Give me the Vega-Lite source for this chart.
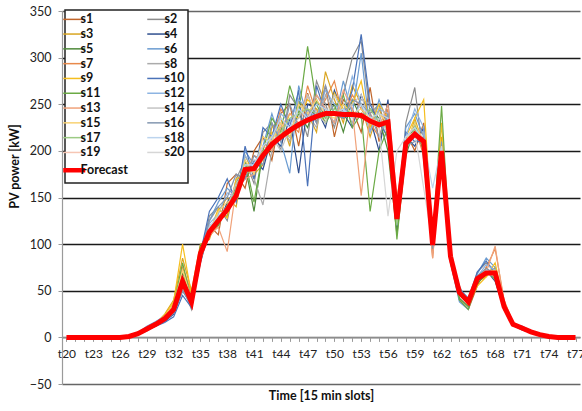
{
"$schema":"https://vega.github.io/schema/vega-lite/v6.json",
"width":518,"height":373,"autosize":"none",
"padding":{"left":62,"top":11,"right":2,"bottom":27},
"background":"white",
"config":{"view":{"stroke":null},"font":"Lato",
"legend":{"rowPadding":1.8,"columnPadding":16,"gridAlign":"each","labelLimit":400}},
"datasets":{
"fc":[
{"t":20,"s":"Forecast","v":0},{"t":21,"s":"Forecast","v":0},{"t":22,"s":"Forecast","v":0},{"t":23,"s":"Forecast","v":0},{"t":24,"s":"Forecast","v":0},{"t":25,"s":"Forecast","v":0},{"t":26,"s":"Forecast","v":0},{"t":27,"s":"Forecast","v":1},{"t":28,"s":"Forecast","v":4},{"t":29,"s":"Forecast","v":9},{"t":30,"s":"Forecast","v":14},{"t":31,"s":"Forecast","v":20},{"t":32,"s":"Forecast","v":30},{"t":33,"s":"Forecast","v":60},{"t":34,"s":"Forecast","v":38},{"t":35,"s":"Forecast","v":90},{"t":36,"s":"Forecast","v":113},{"t":37,"s":"Forecast","v":125},{"t":38,"s":"Forecast","v":137},{"t":39,"s":"Forecast","v":152},{"t":40,"s":"Forecast","v":180},{"t":41,"s":"Forecast","v":181},{"t":42,"s":"Forecast","v":195},{"t":43,"s":"Forecast","v":207},{"t":44,"s":"Forecast","v":215},{"t":45,"s":"Forecast","v":222},{"t":46,"s":"Forecast","v":228},{"t":47,"s":"Forecast","v":233},{"t":48,"s":"Forecast","v":237},{"t":49,"s":"Forecast","v":240},{"t":50,"s":"Forecast","v":240},{"t":51,"s":"Forecast","v":239},{"t":52,"s":"Forecast","v":239},{"t":53,"s":"Forecast","v":238},{"t":54,"s":"Forecast","v":232},{"t":55,"s":"Forecast","v":228},{"t":56,"s":"Forecast","v":231},{"t":57,"s":"Forecast","v":127},{"t":58,"s":"Forecast","v":208},{"t":59,"s":"Forecast","v":218},{"t":60,"s":"Forecast","v":210},{"t":61,"s":"Forecast","v":99},{"t":62,"s":"Forecast","v":200},{"t":63,"s":"Forecast","v":87},{"t":64,"s":"Forecast","v":48},{"t":65,"s":"Forecast","v":38},{"t":66,"s":"Forecast","v":63},{"t":67,"s":"Forecast","v":69},{"t":68,"s":"Forecast","v":69},{"t":69,"s":"Forecast","v":33},{"t":70,"s":"Forecast","v":14},{"t":71,"s":"Forecast","v":10},{"t":72,"s":"Forecast","v":6},{"t":73,"s":"Forecast","v":3},{"t":74,"s":"Forecast","v":1},{"t":75,"s":"Forecast","v":0},{"t":76,"s":"Forecast","v":0},{"t":77,"s":"Forecast","v":0}
],
"scen":[
{"t":27,"s":"s1","v":0},{"t":28,"s":"s1","v":3},{"t":29,"s":"s1","v":8},{"t":30,"s":"s1","v":16},{"t":31,"s":"s1","v":22},{"t":32,"s":"s1","v":35},{"t":33,"s":"s1","v":65},{"t":34,"s":"s1","v":45},{"t":35,"s":"s1","v":95},{"t":36,"s":"s1","v":120},{"t":37,"s":"s1","v":110},{"t":38,"s":"s1","v":165},{"t":39,"s":"s1","v":175},{"t":40,"s":"s1","v":160},{"t":41,"s":"s1","v":200},{"t":42,"s":"s1","v":215},{"t":43,"s":"s1","v":190},{"t":44,"s":"s1","v":240},{"t":45,"s":"s1","v":250},{"t":46,"s":"s1","v":205},{"t":47,"s":"s1","v":262},{"t":48,"s":"s1","v":230},{"t":49,"s":"s1","v":270},{"t":50,"s":"s1","v":215},{"t":51,"s":"s1","v":255},{"t":52,"s":"s1","v":245},{"t":53,"s":"s1","v":220},{"t":54,"s":"s1","v":268},{"t":55,"s":"s1","v":210},{"t":56,"s":"s1","v":240},{"t":57,"s":"s1","v":140},{"t":58,"s":"s1","v":220},{"t":59,"s":"s1","v":200},{"t":60,"s":"s1","v":230},{"t":61,"s":"s1","v":110},{"t":62,"s":"s1","v":190},{"t":63,"s":"s1","v":80},{"t":64,"s":"s1","v":40},{"t":65,"s":"s1","v":30},{"t":66,"s":"s1","v":55},{"t":67,"s":"s1","v":75},{"t":68,"s":"s1","v":65},{"t":69,"s":"s1","v":30},{"t":70,"s":"s1","v":15},{"t":71,"s":"s1","v":9},{"t":72,"s":"s1","v":5},{"t":73,"s":"s1","v":2},
{"t":27,"s":"s2","v":1},{"t":28,"s":"s2","v":5},{"t":29,"s":"s2","v":10},{"t":30,"s":"s2","v":12},{"t":31,"s":"s2","v":18},{"t":32,"s":"s2","v":28},{"t":33,"s":"s2","v":55},{"t":34,"s":"s2","v":30},{"t":35,"s":"s2","v":85},{"t":36,"s":"s2","v":130},{"t":37,"s":"s2","v":140},{"t":38,"s":"s2","v":125},{"t":39,"s":"s2","v":170},{"t":40,"s":"s2","v":190},{"t":41,"s":"s2","v":165},{"t":42,"s":"s2","v":220},{"t":43,"s":"s2","v":230},{"t":44,"s":"s2","v":200},{"t":45,"s":"s2","v":260},{"t":46,"s":"s2","v":245},{"t":47,"s":"s2","v":215},{"t":48,"s":"s2","v":275},{"t":49,"s":"s2","v":250},{"t":50,"s":"s2","v":225},{"t":51,"s":"s2","v":260},{"t":52,"s":"s2","v":300},{"t":53,"s":"s2","v":318},{"t":54,"s":"s2","v":240},{"t":55,"s":"s2","v":250},{"t":56,"s":"s2","v":215},{"t":57,"s":"s2","v":120},{"t":58,"s":"s2","v":230},{"t":59,"s":"s2","v":268},{"t":60,"s":"s2","v":190},{"t":61,"s":"s2","v":95},{"t":62,"s":"s2","v":205},{"t":63,"s":"s2","v":90},{"t":64,"s":"s2","v":55},{"t":65,"s":"s2","v":35},{"t":66,"s":"s2","v":70},{"t":67,"s":"s2","v":80},{"t":68,"s":"s2","v":72},{"t":69,"s":"s2","v":35},{"t":70,"s":"s2","v":12},{"t":71,"s":"s2","v":11},{"t":72,"s":"s2","v":7},{"t":73,"s":"s2","v":3},
{"t":27,"s":"s3","v":2},{"t":28,"s":"s3","v":4},{"t":29,"s":"s3","v":11},{"t":30,"s":"s3","v":15},{"t":31,"s":"s3","v":25},{"t":32,"s":"s3","v":40},{"t":33,"s":"s3","v":85},{"t":34,"s":"s3","v":50},{"t":35,"s":"s3","v":100},{"t":36,"s":"s3","v":105},{"t":37,"s":"s3","v":135},{"t":38,"s":"s3","v":150},{"t":39,"s":"s3","v":140},{"t":40,"s":"s3","v":195},{"t":41,"s":"s3","v":175},{"t":42,"s":"s3","v":185},{"t":43,"s":"s3","v":225},{"t":44,"s":"s3","v":235},{"t":45,"s":"s3","v":205},{"t":46,"s":"s3","v":255},{"t":47,"s":"s3","v":240},{"t":48,"s":"s3","v":220},{"t":49,"s":"s3","v":285},{"t":50,"s":"s3","v":255},{"t":51,"s":"s3","v":230},{"t":52,"s":"s3","v":270},{"t":53,"s":"s3","v":250},{"t":54,"s":"s3","v":215},{"t":55,"s":"s3","v":245},{"t":56,"s":"s3","v":220},{"t":57,"s":"s3","v":135},{"t":58,"s":"s3","v":200},{"t":59,"s":"s3","v":235},{"t":60,"s":"s3","v":205},{"t":61,"s":"s3","v":105},{"t":62,"s":"s3","v":215},{"t":63,"s":"s3","v":95},{"t":64,"s":"s3","v":45},{"t":65,"s":"s3","v":40},{"t":66,"s":"s3","v":60},{"t":67,"s":"s3","v":65},{"t":68,"s":"s3","v":75},{"t":69,"s":"s3","v":38},{"t":70,"s":"s3","v":16},{"t":71,"s":"s3","v":10},{"t":72,"s":"s3","v":6},{"t":73,"s":"s3","v":3},
{"t":27,"s":"s4","v":0},{"t":28,"s":"s4","v":3},{"t":29,"s":"s4","v":7},{"t":30,"s":"s4","v":13},{"t":31,"s":"s4","v":17},{"t":32,"s":"s4","v":25},{"t":33,"s":"s4","v":50},{"t":34,"s":"s4","v":35},{"t":35,"s":"s4","v":80},{"t":36,"s":"s4","v":115},{"t":37,"s":"s4","v":120},{"t":38,"s":"s4","v":145},{"t":39,"s":"s4","v":160},{"t":40,"s":"s4","v":170},{"t":41,"s":"s4","v":190},{"t":42,"s":"s4","v":180},{"t":43,"s":"s4","v":215},{"t":44,"s":"s4","v":205},{"t":45,"s":"s4","v":235},{"t":46,"s":"s4","v":176},{"t":47,"s":"s4","v":250},{"t":48,"s":"s4","v":245},{"t":49,"s":"s4","v":225},{"t":50,"s":"s4","v":265},{"t":51,"s":"s4","v":240},{"t":52,"s":"s4","v":225},{"t":53,"s":"s4","v":260},{"t":54,"s":"s4","v":235},{"t":55,"s":"s4","v":200},{"t":56,"s":"s4","v":255},{"t":57,"s":"s4","v":115},{"t":58,"s":"s4","v":215},{"t":59,"s":"s4","v":205},{"t":60,"s":"s4","v":225},{"t":61,"s":"s4","v":90},{"t":62,"s":"s4","v":185},{"t":63,"s":"s4","v":85},{"t":64,"s":"s4","v":50},{"t":65,"s":"s4","v":35},{"t":66,"s":"s4","v":65},{"t":67,"s":"s4","v":72},{"t":68,"s":"s4","v":60},{"t":69,"s":"s4","v":30},{"t":70,"s":"s4","v":13},{"t":71,"s":"s4","v":8},{"t":72,"s":"s4","v":5},{"t":73,"s":"s4","v":2},
{"t":27,"s":"s5","v":1},{"t":28,"s":"s5","v":4},{"t":29,"s":"s5","v":9},{"t":30,"s":"s5","v":14},{"t":31,"s":"s5","v":19},{"t":32,"s":"s5","v":33},{"t":33,"s":"s5","v":70},{"t":34,"s":"s5","v":42},{"t":35,"s":"s5","v":98},{"t":36,"s":"s5","v":110},{"t":37,"s":"s5","v":130},{"t":38,"s":"s5","v":130},{"t":39,"s":"s5","v":165},{"t":40,"s":"s5","v":185},{"t":41,"s":"s5","v":135},{"t":42,"s":"s5","v":200},{"t":43,"s":"s5","v":200},{"t":44,"s":"s5","v":225},{"t":45,"s":"s5","v":215},{"t":46,"s":"s5","v":240},{"t":47,"s":"s5","v":225},{"t":48,"s":"s5","v":255},{"t":49,"s":"s5","v":235},{"t":50,"s":"s5","v":250},{"t":51,"s":"s5","v":220},{"t":52,"s":"s5","v":255},{"t":53,"s":"s5","v":235},{"t":54,"s":"s5","v":245},{"t":55,"s":"s5","v":235},{"t":56,"s":"s5","v":200},{"t":57,"s":"s5","v":110},{"t":58,"s":"s5","v":195},{"t":59,"s":"s5","v":225},{"t":60,"s":"s5","v":200},{"t":61,"s":"s5","v":100},{"t":62,"s":"s5","v":195},{"t":63,"s":"s5","v":92},{"t":64,"s":"s5","v":42},{"t":65,"s":"s5","v":33},{"t":66,"s":"s5","v":58},{"t":67,"s":"s5","v":68},{"t":68,"s":"s5","v":70},{"t":69,"s":"s5","v":32},{"t":70,"s":"s5","v":15},{"t":71,"s":"s5","v":10},{"t":72,"s":"s5","v":6},{"t":73,"s":"s5","v":3},
{"t":27,"s":"s6","v":1},{"t":28,"s":"s6","v":5},{"t":29,"s":"s6","v":12},{"t":30,"s":"s6","v":17},{"t":31,"s":"s6","v":23},{"t":32,"s":"s6","v":30},{"t":33,"s":"s6","v":55},{"t":34,"s":"s6","v":40},{"t":35,"s":"s6","v":92},{"t":36,"s":"s6","v":125},{"t":37,"s":"s6","v":145},{"t":38,"s":"s6","v":160},{"t":39,"s":"s6","v":150},{"t":40,"s":"s6","v":200},{"t":41,"s":"s6","v":185},{"t":42,"s":"s6","v":205},{"t":43,"s":"s6","v":240},{"t":44,"s":"s6","v":210},{"t":45,"s":"s6","v":176},{"t":46,"s":"s6","v":270},{"t":47,"s":"s6","v":235},{"t":48,"s":"s6","v":260},{"t":49,"s":"s6","v":245},{"t":50,"s":"s6","v":230},{"t":51,"s":"s6","v":275},{"t":52,"s":"s6","v":240},{"t":53,"s":"s6","v":305},{"t":54,"s":"s6","v":220},{"t":55,"s":"s6","v":255},{"t":56,"s":"s6","v":230},{"t":57,"s":"s6","v":130},{"t":58,"s":"s6","v":225},{"t":59,"s":"s6","v":240},{"t":60,"s":"s6","v":215},{"t":61,"s":"s6","v":110},{"t":62,"s":"s6","v":210},{"t":63,"s":"s6","v":80},{"t":64,"s":"s6","v":38},{"t":65,"s":"s6","v":30},{"t":66,"s":"s6","v":68},{"t":67,"s":"s6","v":85},{"t":68,"s":"s6","v":75},{"t":69,"s":"s6","v":36},{"t":70,"s":"s6","v":14},{"t":71,"s":"s6","v":11},{"t":72,"s":"s6","v":6},{"t":73,"s":"s6","v":2},
{"t":27,"s":"s7","v":0},{"t":28,"s":"s7","v":4},{"t":29,"s":"s7","v":8},{"t":30,"s":"s7","v":13},{"t":31,"s":"s7","v":20},{"t":32,"s":"s7","v":36},{"t":33,"s":"s7","v":75},{"t":34,"s":"s7","v":48},{"t":35,"s":"s7","v":88},{"t":36,"s":"s7","v":108},{"t":37,"s":"s7","v":120},{"t":38,"s":"s7","v":140},{"t":39,"s":"s7","v":165},{"t":40,"s":"s7","v":175},{"t":41,"s":"s7","v":195},{"t":42,"s":"s7","v":190},{"t":43,"s":"s7","v":210},{"t":44,"s":"s7","v":245},{"t":45,"s":"s7","v":230},{"t":46,"s":"s7","v":220},{"t":47,"s":"s7","v":270},{"t":48,"s":"s7","v":240},{"t":49,"s":"s7","v":255},{"t":50,"s":"s7","v":275},{"t":51,"s":"s7","v":235},{"t":52,"s":"s7","v":260},{"t":53,"s":"s7","v":245},{"t":54,"s":"s7","v":230},{"t":55,"s":"s7","v":215},{"t":56,"s":"s7","v":245},{"t":57,"s":"s7","v":145},{"t":58,"s":"s7","v":210},{"t":59,"s":"s7","v":225},{"t":60,"s":"s7","v":195},{"t":61,"s":"s7","v":85},{"t":62,"s":"s7","v":205},{"t":63,"s":"s7","v":88},{"t":64,"s":"s7","v":50},{"t":65,"s":"s7","v":40},{"t":66,"s":"s7","v":60},{"t":67,"s":"s7","v":75},{"t":68,"s":"s7","v":95},{"t":69,"s":"s7","v":40},{"t":70,"s":"s7","v":16},{"t":71,"s":"s7","v":9},{"t":72,"s":"s7","v":5},{"t":73,"s":"s7","v":3},
{"t":27,"s":"s8","v":1},{"t":28,"s":"s8","v":3},{"t":29,"s":"s8","v":9},{"t":30,"s":"s8","v":15},{"t":31,"s":"s8","v":21},{"t":32,"s":"s8","v":27},{"t":33,"s":"s8","v":52},{"t":34,"s":"s8","v":35},{"t":35,"s":"s8","v":82},{"t":36,"s":"s8","v":118},{"t":37,"s":"s8","v":128},{"t":38,"s":"s8","v":135},{"t":39,"s":"s8","v":155},{"t":40,"s":"s8","v":185},{"t":41,"s":"s8","v":170},{"t":42,"s":"s8","v":142},{"t":43,"s":"s8","v":200},{"t":44,"s":"s8","v":230},{"t":45,"s":"s8","v":210},{"t":46,"s":"s8","v":250},{"t":47,"s":"s8","v":240},{"t":48,"s":"s8","v":225},{"t":49,"s":"s8","v":260},{"t":50,"s":"s8","v":240},{"t":51,"s":"s8","v":250},{"t":52,"s":"s8","v":230},{"t":53,"s":"s8","v":255},{"t":54,"s":"s8","v":250},{"t":55,"s":"s8","v":240},{"t":56,"s":"s8","v":210},{"t":57,"s":"s8","v":125},{"t":58,"s":"s8","v":205},{"t":59,"s":"s8","v":215},{"t":60,"s":"s8","v":220},{"t":61,"s":"s8","v":100},{"t":62,"s":"s8","v":195},{"t":63,"s":"s8","v":95},{"t":64,"s":"s8","v":45},{"t":65,"s":"s8","v":38},{"t":66,"s":"s8","v":62},{"t":67,"s":"s8","v":70},{"t":68,"s":"s8","v":65},{"t":69,"s":"s8","v":33},{"t":70,"s":"s8","v":13},{"t":71,"s":"s8","v":10},{"t":72,"s":"s8","v":6},{"t":73,"s":"s8","v":2},
{"t":27,"s":"s9","v":1},{"t":28,"s":"s9","v":4},{"t":29,"s":"s9","v":10},{"t":30,"s":"s9","v":14},{"t":31,"s":"s9","v":24},{"t":32,"s":"s9","v":38},{"t":33,"s":"s9","v":100},{"t":34,"s":"s9","v":45},{"t":35,"s":"s9","v":96},{"t":36,"s":"s9","v":112},{"t":37,"s":"s9","v":138},{"t":38,"s":"s9","v":128},{"t":39,"s":"s9","v":170},{"t":40,"s":"s9","v":175},{"t":41,"s":"s9","v":180},{"t":42,"s":"s9","v":190},{"t":43,"s":"s9","v":220},{"t":44,"s":"s9","v":215},{"t":45,"s":"s9","v":240},{"t":46,"s":"s9","v":235},{"t":47,"s":"s9","v":255},{"t":48,"s":"s9","v":245},{"t":49,"s":"s9","v":230},{"t":50,"s":"s9","v":262},{"t":51,"s":"s9","v":245},{"t":52,"s":"s9","v":250},{"t":53,"s":"s9","v":275},{"t":54,"s":"s9","v":225},{"t":55,"s":"s9","v":250},{"t":56,"s":"s9","v":235},{"t":57,"s":"s9","v":135},{"t":58,"s":"s9","v":215},{"t":59,"s":"s9","v":235},{"t":60,"s":"s9","v":255},{"t":61,"s":"s9","v":105},{"t":62,"s":"s9","v":230},{"t":63,"s":"s9","v":85},{"t":64,"s":"s9","v":48},{"t":65,"s":"s9","v":35},{"t":66,"s":"s9","v":55},{"t":67,"s":"s9","v":65},{"t":68,"s":"s9","v":80},{"t":69,"s":"s9","v":35},{"t":70,"s":"s9","v":15},{"t":71,"s":"s9","v":10},{"t":72,"s":"s9","v":6},{"t":73,"s":"s9","v":3},
{"t":27,"s":"s10","v":0},{"t":28,"s":"s10","v":3},{"t":29,"s":"s10","v":8},{"t":30,"s":"s10","v":12},{"t":31,"s":"s10","v":16},{"t":32,"s":"s10","v":22},{"t":33,"s":"s10","v":45},{"t":34,"s":"s10","v":32},{"t":35,"s":"s10","v":90},{"t":36,"s":"s10","v":135},{"t":37,"s":"s10","v":150},{"t":38,"s":"s10","v":170},{"t":39,"s":"s10","v":145},{"t":40,"s":"s10","v":205},{"t":41,"s":"s10","v":170},{"t":42,"s":"s10","v":225},{"t":43,"s":"s10","v":215},{"t":44,"s":"s10","v":250},{"t":45,"s":"s10","v":225},{"t":46,"s":"s10","v":265},{"t":47,"s":"s10","v":162},{"t":48,"s":"s10","v":270},{"t":49,"s":"s10","v":240},{"t":50,"s":"s10","v":240},{"t":51,"s":"s10","v":235},{"t":52,"s":"s10","v":265},{"t":53,"s":"s10","v":325},{"t":54,"s":"s10","v":250},{"t":55,"s":"s10","v":230},{"t":56,"s":"s10","v":215},{"t":57,"s":"s10","v":120},{"t":58,"s":"s10","v":220},{"t":59,"s":"s10","v":210},{"t":60,"s":"s10","v":210},{"t":61,"s":"s10","v":95},{"t":62,"s":"s10","v":190},{"t":63,"s":"s10","v":90},{"t":64,"s":"s10","v":52},{"t":65,"s":"s10","v":42},{"t":66,"s":"s10","v":70},{"t":67,"s":"s10","v":82},{"t":68,"s":"s10","v":68},{"t":69,"s":"s10","v":31},{"t":70,"s":"s10","v":14},{"t":71,"s":"s10","v":12},{"t":72,"s":"s10","v":7},{"t":73,"s":"s10","v":3},
{"t":27,"s":"s11","v":1},{"t":28,"s":"s11","v":4},{"t":29,"s":"s11","v":9},{"t":30,"s":"s11","v":15},{"t":31,"s":"s11","v":20},{"t":32,"s":"s11","v":34},{"t":33,"s":"s11","v":80},{"t":34,"s":"s11","v":40},{"t":35,"s":"s11","v":94},{"t":36,"s":"s11","v":115},{"t":37,"s":"s11","v":120},{"t":38,"s":"s11","v":142},{"t":39,"s":"s11","v":158},{"t":40,"s":"s11","v":190},{"t":41,"s":"s11","v":145},{"t":42,"s":"s11","v":200},{"t":43,"s":"s11","v":235},{"t":44,"s":"s11","v":220},{"t":45,"s":"s11","v":270},{"t":46,"s":"s11","v":240},{"t":47,"s":"s11","v":312},{"t":48,"s":"s11","v":250},{"t":49,"s":"s11","v":230},{"t":50,"s":"s11","v":245},{"t":51,"s":"s11","v":260},{"t":52,"s":"s11","v":225},{"t":53,"s":"s11","v":240},{"t":54,"s":"s11","v":135},{"t":55,"s":"s11","v":200},{"t":56,"s":"s11","v":225},{"t":57,"s":"s11","v":105},{"t":58,"s":"s11","v":200},{"t":59,"s":"s11","v":230},{"t":60,"s":"s11","v":200},{"t":61,"s":"s11","v":100},{"t":62,"s":"s11","v":248},{"t":63,"s":"s11","v":85},{"t":64,"s":"s11","v":40},{"t":65,"s":"s11","v":30},{"t":66,"s":"s11","v":60},{"t":67,"s":"s11","v":72},{"t":68,"s":"s11","v":62},{"t":69,"s":"s11","v":30},{"t":70,"s":"s11","v":13},{"t":71,"s":"s11","v":9},{"t":72,"s":"s11","v":5},{"t":73,"s":"s11","v":2},
{"t":27,"s":"s12","v":1},{"t":28,"s":"s12","v":5},{"t":29,"s":"s12","v":11},{"t":30,"s":"s12","v":16},{"t":31,"s":"s12","v":22},{"t":32,"s":"s12","v":29},{"t":33,"s":"s12","v":58},{"t":34,"s":"s12","v":36},{"t":35,"s":"s12","v":87},{"t":36,"s":"s12","v":122},{"t":37,"s":"s12","v":132},{"t":38,"s":"s12","v":155},{"t":39,"s":"s12","v":150},{"t":40,"s":"s12","v":195},{"t":41,"s":"s12","v":180},{"t":42,"s":"s12","v":195},{"t":43,"s":"s12","v":210},{"t":44,"s":"s12","v":240},{"t":45,"s":"s12","v":230},{"t":46,"s":"s12","v":255},{"t":47,"s":"s12","v":245},{"t":48,"s":"s12","v":235},{"t":49,"s":"s12","v":265},{"t":50,"s":"s12","v":250},{"t":51,"s":"s12","v":240},{"t":52,"s":"s12","v":280},{"t":53,"s":"s12","v":250},{"t":54,"s":"s12","v":220},{"t":55,"s":"s12","v":245},{"t":56,"s":"s12","v":240},{"t":57,"s":"s12","v":130},{"t":58,"s":"s12","v":215},{"t":59,"s":"s12","v":245},{"t":60,"s":"s12","v":225},{"t":61,"s":"s12","v":100},{"t":62,"s":"s12","v":200},{"t":63,"s":"s12","v":90},{"t":64,"s":"s12","v":46},{"t":65,"s":"s12","v":38},{"t":66,"s":"s12","v":65},{"t":67,"s":"s12","v":78},{"t":68,"s":"s12","v":72},{"t":69,"s":"s12","v":34},{"t":70,"s":"s12","v":15},{"t":71,"s":"s12","v":10},{"t":72,"s":"s12","v":6},{"t":73,"s":"s12","v":3},
{"t":27,"s":"s13","v":0},{"t":28,"s":"s13","v":3},{"t":29,"s":"s13","v":8},{"t":30,"s":"s13","v":14},{"t":31,"s":"s13","v":19},{"t":32,"s":"s13","v":31},{"t":33,"s":"s13","v":62},{"t":34,"s":"s13","v":44},{"t":35,"s":"s13","v":84},{"t":36,"s":"s13","v":110},{"t":37,"s":"s13","v":118},{"t":38,"s":"s13","v":92},{"t":39,"s":"s13","v":160},{"t":40,"s":"s13","v":170},{"t":41,"s":"s13","v":175},{"t":42,"s":"s13","v":205},{"t":43,"s":"s13","v":200},{"t":44,"s":"s13","v":225},{"t":45,"s":"s13","v":240},{"t":46,"s":"s13","v":230},{"t":47,"s":"s13","v":235},{"t":48,"s":"s13","v":260},{"t":49,"s":"s13","v":245},{"t":50,"s":"s13","v":230},{"t":51,"s":"s13","v":265},{"t":52,"s":"s13","v":245},{"t":53,"s":"s13","v":152},{"t":54,"s":"s13","v":240},{"t":55,"s":"s13","v":225},{"t":56,"s":"s13","v":250},{"t":57,"s":"s13","v":150},{"t":58,"s":"s13","v":205},{"t":59,"s":"s13","v":220},{"t":60,"s":"s13","v":205},{"t":61,"s":"s13","v":85},{"t":62,"s":"s13","v":195},{"t":63,"s":"s13","v":92},{"t":64,"s":"s13","v":50},{"t":65,"s":"s13","v":36},{"t":66,"s":"s13","v":62},{"t":67,"s":"s13","v":70},{"t":68,"s":"s13","v":98},{"t":69,"s":"s13","v":36},{"t":70,"s":"s13","v":14},{"t":71,"s":"s13","v":10},{"t":72,"s":"s13","v":5},{"t":73,"s":"s13","v":2},
{"t":27,"s":"s14","v":1},{"t":28,"s":"s14","v":4},{"t":29,"s":"s14","v":10},{"t":30,"s":"s14","v":13},{"t":31,"s":"s14","v":21},{"t":32,"s":"s14","v":32},{"t":33,"s":"s14","v":60},{"t":34,"s":"s14","v":38},{"t":35,"s":"s14","v":91},{"t":36,"s":"s14","v":120},{"t":37,"s":"s14","v":125},{"t":38,"s":"s14","v":140},{"t":39,"s":"s14","v":165},{"t":40,"s":"s14","v":180},{"t":41,"s":"s14","v":190},{"t":42,"s":"s14","v":190},{"t":43,"s":"s14","v":215},{"t":44,"s":"s14","v":200},{"t":45,"s":"s14","v":225},{"t":46,"s":"s14","v":235},{"t":47,"s":"s14","v":260},{"t":48,"s":"s14","v":240},{"t":49,"s":"s14","v":230},{"t":50,"s":"s14","v":260},{"t":51,"s":"s14","v":240},{"t":52,"s":"s14","v":250},{"t":53,"s":"s14","v":260},{"t":54,"s":"s14","v":230},{"t":55,"s":"s14","v":235},{"t":56,"s":"s14","v":220},{"t":57,"s":"s14","v":125},{"t":58,"s":"s14","v":210},{"t":59,"s":"s14","v":215},{"t":60,"s":"s14","v":215},{"t":61,"s":"s14","v":110},{"t":62,"s":"s14","v":200},{"t":63,"s":"s14","v":88},{"t":64,"s":"s14","v":48},{"t":65,"s":"s14","v":40},{"t":66,"s":"s14","v":64},{"t":67,"s":"s14","v":68},{"t":68,"s":"s14","v":66},{"t":69,"s":"s14","v":33},{"t":70,"s":"s14","v":15},{"t":71,"s":"s14","v":11},{"t":72,"s":"s14","v":6},{"t":73,"s":"s14","v":3},
{"t":27,"s":"s15","v":1},{"t":28,"s":"s15","v":4},{"t":29,"s":"s15","v":9},{"t":30,"s":"s15","v":15},{"t":31,"s":"s15","v":22},{"t":32,"s":"s15","v":35},{"t":33,"s":"s15","v":72},{"t":34,"s":"s15","v":41},{"t":35,"s":"s15","v":93},{"t":36,"s":"s15","v":108},{"t":37,"s":"s15","v":135},{"t":38,"s":"s15","v":145},{"t":39,"s":"s15","v":150},{"t":40,"s":"s15","v":190},{"t":41,"s":"s15","v":175},{"t":42,"s":"s15","v":215},{"t":43,"s":"s15","v":210},{"t":44,"s":"s15","v":230},{"t":45,"s":"s15","v":215},{"t":46,"s":"s15","v":250},{"t":47,"s":"s15","v":240},{"t":48,"s":"s15","v":255},{"t":49,"s":"s15","v":240},{"t":50,"s":"s15","v":235},{"t":51,"s":"s15","v":250},{"t":52,"s":"s15","v":240},{"t":53,"s":"s15","v":245},{"t":54,"s":"s15","v":235},{"t":55,"s":"s15","v":240},{"t":56,"s":"s15","v":230},{"t":57,"s":"s15","v":128},{"t":58,"s":"s15","v":210},{"t":59,"s":"s15","v":230},{"t":60,"s":"s15","v":210},{"t":61,"s":"s15","v":100},{"t":62,"s":"s15","v":205},{"t":63,"s":"s15","v":84},{"t":64,"s":"s15","v":46},{"t":65,"s":"s15","v":36},{"t":66,"s":"s15","v":60},{"t":67,"s":"s15","v":70},{"t":68,"s":"s15","v":72},{"t":69,"s":"s15","v":35},{"t":70,"s":"s15","v":14},{"t":71,"s":"s15","v":10},{"t":72,"s":"s15","v":6},{"t":73,"s":"s15","v":3},
{"t":27,"s":"s16","v":0},{"t":28,"s":"s16","v":3},{"t":29,"s":"s16","v":8},{"t":30,"s":"s16","v":12},{"t":31,"s":"s16","v":18},{"t":32,"s":"s16","v":26},{"t":33,"s":"s16","v":50},{"t":34,"s":"s16","v":34},{"t":35,"s":"s16","v":85},{"t":36,"s":"s16","v":125},{"t":37,"s":"s16","v":140},{"t":38,"s":"s16","v":150},{"t":39,"s":"s16","v":175},{"t":40,"s":"s16","v":170},{"t":41,"s":"s16","v":195},{"t":42,"s":"s16","v":185},{"t":43,"s":"s16","v":230},{"t":44,"s":"s16","v":210},{"t":45,"s":"s16","v":250},{"t":46,"s":"s16","v":225},{"t":47,"s":"s16","v":245},{"t":48,"s":"s16","v":230},{"t":49,"s":"s16","v":270},{"t":50,"s":"s16","v":240},{"t":51,"s":"s16","v":235},{"t":52,"s":"s16","v":255},{"t":53,"s":"s16","v":250},{"t":54,"s":"s16","v":240},{"t":55,"s":"s16","v":215},{"t":56,"s":"s16","v":240},{"t":57,"s":"s16","v":130},{"t":58,"s":"s16","v":205},{"t":59,"s":"s16","v":210},{"t":60,"s":"s16","v":215},{"t":61,"s":"s16","v":95},{"t":62,"s":"s16","v":195},{"t":63,"s":"s16","v":90},{"t":64,"s":"s16","v":50},{"t":65,"s":"s16","v":40},{"t":66,"s":"s16","v":66},{"t":67,"s":"s16","v":74},{"t":68,"s":"s16","v":68},{"t":69,"s":"s16","v":31},{"t":70,"s":"s16","v":13},{"t":71,"s":"s16","v":10},{"t":72,"s":"s16","v":5},{"t":73,"s":"s16","v":2},
{"t":27,"s":"s17","v":1},{"t":28,"s":"s17","v":4},{"t":29,"s":"s17","v":9},{"t":30,"s":"s17","v":14},{"t":31,"s":"s17","v":20},{"t":32,"s":"s17","v":30},{"t":33,"s":"s17","v":64},{"t":34,"s":"s17","v":39},{"t":35,"s":"s17","v":90},{"t":36,"s":"s17","v":112},{"t":37,"s":"s17","v":128},{"t":38,"s":"s17","v":135},{"t":39,"s":"s17","v":160},{"t":40,"s":"s17","v":185},{"t":41,"s":"s17","v":180},{"t":42,"s":"s17","v":200},{"t":43,"s":"s17","v":205},{"t":44,"s":"s17","v":220},{"t":45,"s":"s17","v":235},{"t":46,"s":"s17","v":240},{"t":47,"s":"s17","v":245},{"t":48,"s":"s17","v":240},{"t":49,"s":"s17","v":235},{"t":50,"s":"s17","v":245},{"t":51,"s":"s17","v":240},{"t":52,"s":"s17","v":240},{"t":53,"s":"s17","v":235},{"t":54,"s":"s17","v":245},{"t":55,"s":"s17","v":230},{"t":56,"s":"s17","v":225},{"t":57,"s":"s17","v":120},{"t":58,"s":"s17","v":200},{"t":59,"s":"s17","v":225},{"t":60,"s":"s17","v":205},{"t":61,"s":"s17","v":100},{"t":62,"s":"s17","v":200},{"t":63,"s":"s17","v":86},{"t":64,"s":"s17","v":45},{"t":65,"s":"s17","v":37},{"t":66,"s":"s17","v":62},{"t":67,"s":"s17","v":70},{"t":68,"s":"s17","v":70},{"t":69,"s":"s17","v":32},{"t":70,"s":"s17","v":14},{"t":71,"s":"s17","v":10},{"t":72,"s":"s17","v":6},{"t":73,"s":"s17","v":3},
{"t":27,"s":"s18","v":1},{"t":28,"s":"s18","v":5},{"t":29,"s":"s18","v":10},{"t":30,"s":"s18","v":16},{"t":31,"s":"s18","v":22},{"t":32,"s":"s18","v":31},{"t":33,"s":"s18","v":57},{"t":34,"s":"s18","v":37},{"t":35,"s":"s18","v":88},{"t":36,"s":"s18","v":118},{"t":37,"s":"s18","v":130},{"t":38,"s":"s18","v":140},{"t":39,"s":"s18","v":155},{"t":40,"s":"s18","v":185},{"t":41,"s":"s18","v":185},{"t":42,"s":"s18","v":205},{"t":43,"s":"s18","v":215},{"t":44,"s":"s18","v":235},{"t":45,"s":"s18","v":225},{"t":46,"s":"s18","v":245},{"t":47,"s":"s18","v":235},{"t":48,"s":"s18","v":250},{"t":49,"s":"s18","v":245},{"t":50,"s":"s18","v":240},{"t":51,"s":"s18","v":245},{"t":52,"s":"s18","v":235},{"t":53,"s":"s18","v":250},{"t":54,"s":"s18","v":235},{"t":55,"s":"s18","v":240},{"t":56,"s":"s18","v":235},{"t":57,"s":"s18","v":135},{"t":58,"s":"s18","v":215},{"t":59,"s":"s18","v":225},{"t":60,"s":"s18","v":210},{"t":61,"s":"s18","v":160},{"t":62,"s":"s18","v":205},{"t":63,"s":"s18","v":90},{"t":64,"s":"s18","v":47},{"t":65,"s":"s18","v":38},{"t":66,"s":"s18","v":64},{"t":67,"s":"s18","v":72},{"t":68,"s":"s18","v":68},{"t":69,"s":"s18","v":34},{"t":70,"s":"s18","v":15},{"t":71,"s":"s18","v":11},{"t":72,"s":"s18","v":6},{"t":73,"s":"s18","v":3},
{"t":27,"s":"s19","v":0},{"t":28,"s":"s19","v":4},{"t":29,"s":"s19","v":9},{"t":30,"s":"s19","v":14},{"t":31,"s":"s19","v":20},{"t":32,"s":"s19","v":29},{"t":33,"s":"s19","v":60},{"t":34,"s":"s19","v":38},{"t":35,"s":"s19","v":90},{"t":36,"s":"s19","v":113},{"t":37,"s":"s19","v":123},{"t":38,"s":"s19","v":138},{"t":39,"s":"s19","v":152},{"t":40,"s":"s19","v":180},{"t":41,"s":"s19","v":178},{"t":42,"s":"s19","v":195},{"t":43,"s":"s19","v":208},{"t":44,"s":"s19","v":215},{"t":45,"s":"s19","v":220},{"t":46,"s":"s19","v":230},{"t":47,"s":"s19","v":235},{"t":48,"s":"s19","v":235},{"t":49,"s":"s19","v":240},{"t":50,"s":"s19","v":238},{"t":51,"s":"s19","v":240},{"t":52,"s":"s19","v":240},{"t":53,"s":"s19","v":238},{"t":54,"s":"s19","v":235},{"t":55,"s":"s19","v":230},{"t":56,"s":"s19","v":232},{"t":57,"s":"s19","v":130},{"t":58,"s":"s19","v":205},{"t":59,"s":"s19","v":218},{"t":60,"s":"s19","v":212},{"t":61,"s":"s19","v":105},{"t":62,"s":"s19","v":200},{"t":63,"s":"s19","v":88},{"t":64,"s":"s19","v":48},{"t":65,"s":"s19","v":40},{"t":66,"s":"s19","v":64},{"t":67,"s":"s19","v":70},{"t":68,"s":"s19","v":70},{"t":69,"s":"s19","v":34},{"t":70,"s":"s19","v":14},{"t":71,"s":"s19","v":10},{"t":72,"s":"s19","v":6},{"t":73,"s":"s19","v":3},
{"t":27,"s":"s20","v":1},{"t":28,"s":"s20","v":4},{"t":29,"s":"s20","v":9},{"t":30,"s":"s20","v":14},{"t":31,"s":"s20","v":19},{"t":32,"s":"s20","v":30},{"t":33,"s":"s20","v":58},{"t":34,"s":"s20","v":36},{"t":35,"s":"s20","v":89},{"t":36,"s":"s20","v":114},{"t":37,"s":"s20","v":126},{"t":38,"s":"s20","v":136},{"t":39,"s":"s20","v":150},{"t":40,"s":"s20","v":178},{"t":41,"s":"s20","v":182},{"t":42,"s":"s20","v":196},{"t":43,"s":"s20","v":206},{"t":44,"s":"s20","v":216},{"t":45,"s":"s20","v":224},{"t":46,"s":"s20","v":226},{"t":47,"s":"s20","v":232},{"t":48,"s":"s20","v":238},{"t":49,"s":"s20","v":242},{"t":50,"s":"s20","v":238},{"t":51,"s":"s20","v":240},{"t":52,"s":"s20","v":236},{"t":53,"s":"s20","v":240},{"t":54,"s":"s20","v":230},{"t":55,"s":"s20","v":225},{"t":56,"s":"s20","v":130},{"t":57,"s":"s20","v":200},{"t":58,"s":"s20","v":215},{"t":59,"s":"s20","v":220},{"t":60,"s":"s20","v":160},{"t":61,"s":"s20","v":100},{"t":62,"s":"s20","v":198},{"t":63,"s":"s20","v":86},{"t":64,"s":"s20","v":47},{"t":65,"s":"s20","v":38},{"t":66,"s":"s20","v":62},{"t":67,"s":"s20","v":68},{"t":68,"s":"s20","v":70},{"t":69,"s":"s20","v":33},{"t":70,"s":"s20","v":14},{"t":71,"s":"s20","v":10},{"t":72,"s":"s20","v":6},{"t":73,"s":"s20","v":3}
]},
"encoding":{
"x":{"field":"t","type":"quantitative","scale":{"domain":[19.5,77.5],"nice":false,"zero":false},
"axis":{"title":"Time [15 min slots]","values":[20,21,22,23,24,25,26,27,28,29,30,31,32,33,34,35,36,37,38,39,40,41,42,43,44,45,46,47,48,49,50,51,52,53,54,55,56,57,58,59,60,61,62,63,64,65,66,67,68,69,70,71,72,73,74,75,76,77],
"labelExpr":"(datum.value-20)%3==0 ? 't'+datum.value : ''","labelOverlap":false,"labelFlush":false,"offset":-46.6,"grid":false,
"domainColor":"#9a9a9a","domainWidth":1.2,"tickColor":"#9a9a9a","tickSize":4,"labelPadding":7,"labelFontSize":12,"labelColor":"#222",
"titleFontSize":12.5,"titleFontWeight":"bold","titleColor":"#111","titlePadding":30}},
"y":{"field":"v","type":"quantitative","scale":{"domain":[-50,350],"nice":false,"zero":false},
"axis":{"title":"PV power [kW]","values":[-50,0,50,100,150,200,250,300,350],"grid":true,
"gridColor":{"condition":{"test":"datum.value === -50 || datum.value === 350 || datum.value === 0","value":"#666"},"value":"#1a1a1a"},"gridWidth":1.4,
"domainColor":"#9a9a9a","domainWidth":1.2,"tickColor":"#9a9a9a","tickSize":4,"labelPadding":7,"labelFontSize":12.5,"labelColor":"#222",
"titleFontSize":12.5,"titleFontWeight":"bold","titleColor":"#111","titleX":-48,"titleY":155,"titleAngle":270,"titleAlign":"center","titleBaseline":"middle"}},
"color":{"field":"s","type":"nominal",
"scale":{"domain":["s1","s2","s3","s4","s5","s6","s7","s8","s9","s10","s11","s12","s13","s14","s15","s16","s17","s18","s19","s20","Forecast"],
"range":["#C0652A","#8C8C8C","#D9A520","#2F4F8F","#4E8A3A","#6A9BD1","#E8894A","#ABABAB","#F5BE1E","#4A72B8","#6BAA45","#8DB4E2","#F0A27A","#C4C4C4","#F8D273","#8497B0","#9CCB84","#BCD4EE","#F6C6B4","#D6D6D6","#FF0000"]},
"legend":{"title":null,"orient":"none","legendX":3,"legendY":-1,"direction":"horizontal","columns":2,"symbolType":"stroke","symbolSize":484,"symbolStrokeWidth":1.5,
"labelFontSize":12.5,"labelFontWeight":"bold","labelColor":"#111","labelOffset":0,"rowPadding":1.8,"columnPadding":16,"padding":3,
"strokeColor":"#222","fillColor":"white",
"encode":{"symbols":{"update":{"strokeWidth":{"signal":"datum.value === 'Forecast' ? 4.5 : 1.5"}}},"legend":{"update":{"strokeWidth":{"value":1.5}}}}}}
},
"layer":[
{"data":{"name":"scen"},"mark":{"type":"line","strokeWidth":1.2}},
{"data":{"name":"fc"},"mark":{"type":"line","strokeWidth":5}}
]
}
